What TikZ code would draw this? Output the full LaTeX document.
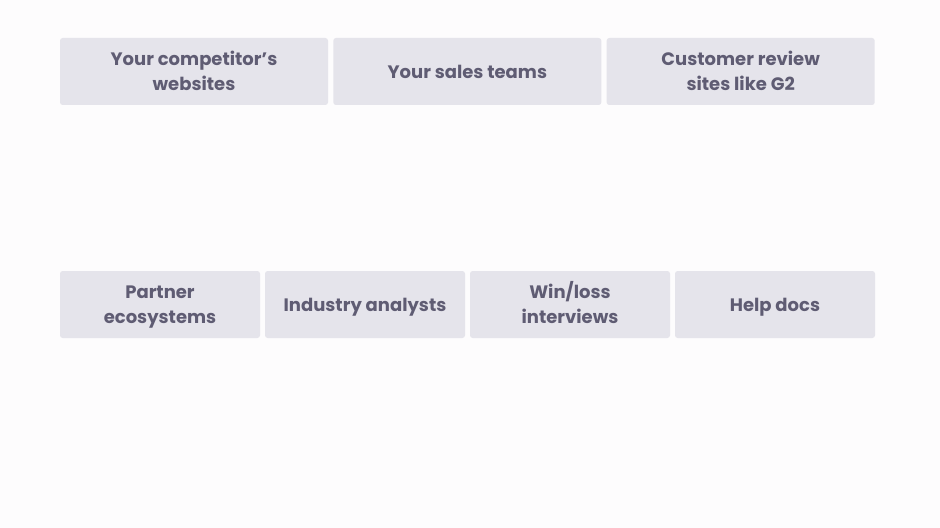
\documentclass[tikz,border=0pt]{standalone}
\usepackage{fontspec}
\setsansfont{Poppins}
\usetikzlibrary{positioning}
\definecolor{cbox}{HTML}{E5E4EB}
\definecolor{ctext}{HTML}{5F5C73}
\definecolor{cback}{HTML}{FDFCFD}
\tikzset{
  every picture/.style={font=\sffamily\bfseries},
  source/.style={fill=cbox, rounded corners=2pt, align=center, text=ctext, font=\sffamily\bfseries\fontsize{13.5}{18.75}\selectfont,
    minimum height=50.25pt, inner sep=0pt, outer sep=0pt, text height=15pt, text depth=4.6pt},
  pair/.style={text height=33.75pt},
  wide/.style={source, minimum width=201pt},
  narrow/.style={source, minimum width=150pt},
}

\begin{document}
\begin{tikzpicture}[x=0.75pt, y=-0.75pt]
  \fill[cback] (0,0) rectangle (940,528);
  \useasboundingbox (0,0) rectangle (940,528);
  % top row
  \node[wide, pair] (rivals) at (194,71.5) {Your competitor{\char39}s\\websites};
  \node[wide, right=4pt of rivals] (sales) {Your sales teams};
  \node[wide, pair, right=4pt of sales] (reviews) {Customer review\\sites like G2};
  % bottom row
  \node[narrow, pair] (partners) at (160,304.5) {Partner\\ecosystems};
  \node[narrow, right=3.75pt of partners] (analysts) {Industry analysts};
  \node[narrow, pair, right=3.75pt of analysts] (winloss) {Win/loss\\interviews};
  \node[narrow, right=3.75pt of winloss] (docs) {Help docs};
\end{tikzpicture}
\end{document}
